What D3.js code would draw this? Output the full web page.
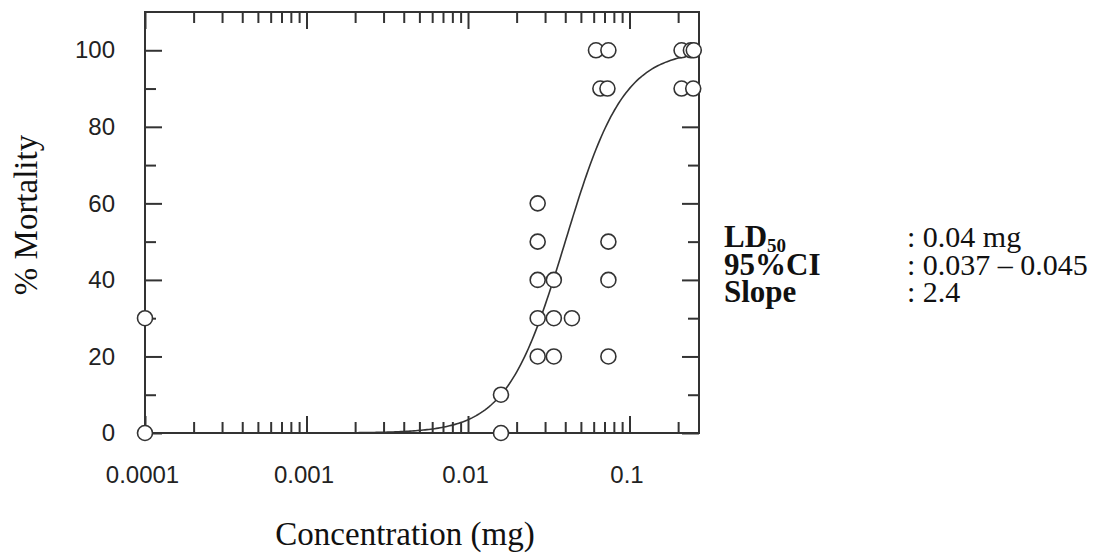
<!DOCTYPE html>
<html>
<head>
<meta charset="utf-8">
<script src="https://cdn.jsdelivr.net/npm/d3@7"></script>
<style>
  body { margin: 0; background: #fff; }
  svg { display: block; }
  .tick text { font-family: "Liberation Sans", Arial, sans-serif; font-size: 24px; fill: #222; }
  .serif { font-family: "Liberation Serif", "Times New Roman", serif; fill: #111; }
</style>
</head>
<body>
<svg class="figure" width="1095" height="555"></svg>
<script>
// observed mortality per test concentration (mg)
var doses = [0.0001, 0.0001, 0.016, 0.016,
  0.027, 0.027, 0.027, 0.027, 0.027,
  0.034, 0.034, 0.034, 0.044,
  0.074, 0.074, 0.074,
  0.062, 0.074, 0.066, 0.073,
  0.21, 0.24, 0.25, 0.21, 0.248];
var mortality = [0, 30, 0, 10,
  20, 30, 40, 50, 60,
  20, 30, 40, 30,
  20, 40, 50,
  100, 100, 90, 90,
  100, 100, 100, 90, 90];

// fitted dose-response
var ld50 = 0.04;
var slope = 2.4;
var fitRange = [0.00128, 0.2693];

var xMajor = [0.0001, 0.001, 0.01, 0.1];
var xTickLabels = ["0.0001", "0.001", "0.01", "0.1"];
var yMajor = [0, 20, 40, 60, 80, 100];
var yMinor = [10, 30, 50, 70, 90];

var statNames = ["LD", "95%CI", "Slope"];
var statValues = [": 0.04 mg", ": 0.037 \u2013 0.045", ": 2.4"];

var svg = d3.select("svg.figure");
var plotLeft = 145, plotRight = 699, plotTop = 12, plotBottom = 433;
var ink = "#333";

var x = d3.scaleLog().domain([0.0001, 0.2693]).range([plotLeft, plotRight]);
var y = d3.scaleLinear().domain([0, 110]).range([plotBottom, plotTop]);

var xMinor = x.ticks().filter(function(d) {
  return !xMajor.some(function(m) { return Math.abs(m - d) < m * 1e-6; });
});

function styleTicks(g) {
  g.select(".domain").remove();
  g.selectAll(".tick line").attr("stroke", ink).attr("stroke-width", 2);
}

// inward ticks on all four sides
function addTicks(axisFn, transform, values, size) {
  svg.append("g")
    .attr("transform", transform)
    .call(axisFn.tickValues(values).tickSize(-size).tickFormat(""))
    .call(styleTicks);
}
addTicks(d3.axisBottom(x), "translate(0," + plotBottom + ")", xMajor, 17);
addTicks(d3.axisBottom(x), "translate(0," + plotBottom + ")", xMinor, 11);
addTicks(d3.axisTop(x), "translate(0," + plotTop + ")", xMajor, 17);
addTicks(d3.axisTop(x), "translate(0," + plotTop + ")", xMinor, 11);
addTicks(d3.axisLeft(y), "translate(" + plotLeft + ",0)", yMajor, 17);
addTicks(d3.axisLeft(y), "translate(" + plotLeft + ",0)", yMinor, 11);
addTicks(d3.axisRight(y), "translate(" + plotRight + ",0)", yMajor, 17);
addTicks(d3.axisRight(y), "translate(" + plotRight + ",0)", yMinor, 11);

// tick labels
svg.append("g")
  .attr("transform", "translate(-3," + plotBottom + ")")
  .call(d3.axisBottom(x).tickValues(xMajor).tickSize(0).tickPadding(33)
    .tickFormat(function(d, i) { return xTickLabels[i]; }))
  .call(function(g) { g.select(".domain").remove(); });

svg.append("g")
  .attr("transform", "translate(" + plotLeft + ",0)")
  .call(d3.axisLeft(y).tickValues(yMajor).tickSize(0).tickPadding(30))
  .call(function(g) { g.select(".domain").remove(); });

// frame
svg.append("rect")
  .attr("x", plotLeft).attr("y", plotTop)
  .attr("width", plotRight - plotLeft).attr("height", plotBottom - plotTop)
  .attr("fill", "none").attr("stroke", ink).attr("stroke-width", 2);

// fitted curve
var curvePts = d3.range(0, 201).map(function(i) {
  var lo = Math.log10(fitRange[0]), hi = Math.log10(fitRange[1]);
  var c = Math.pow(10, lo + (hi - lo) * i / 200);
  return [c, 100 / (1 + Math.pow(ld50 / c, slope))];
});
svg.append("path")
  .datum(curvePts)
  .attr("fill", "none")
  .attr("stroke", ink)
  .attr("stroke-width", 1.6)
  .attr("d", d3.line()
    .x(function(d) { return x(d[0]); })
    .y(function(d) { return y(d[1]); }));

// observations
svg.selectAll("circle.obs")
  .data(doses)
  .enter()
  .append("circle")
  .attr("class", "obs")
  .attr("cx", function(d) { return x(d); })
  .attr("cy", function(d, i) { return y(mortality[i]); })
  .attr("r", 7.5)
  .attr("fill", "#fff")
  .attr("stroke", ink)
  .attr("stroke-width", 1.6);

// axis titles
svg.append("text")
  .attr("class", "serif")
  .attr("x", 405).attr("y", 545)
  .attr("text-anchor", "middle")
  .style("font-size", "33px")
  .text("Concentration (mg)");

svg.append("text")
  .attr("class", "serif")
  .attr("transform", "translate(37,215) rotate(-90)")
  .attr("text-anchor", "middle")
  .style("font-size", "33px")
  .text("% Mortality");

// fit summary
var statY = [247, 275, 302];
var names = svg.selectAll("text.stat-name")
  .data(statNames)
  .enter()
  .append("text")
  .attr("class", "serif stat-name")
  .attr("x", 724)
  .attr("y", function(d, i) { return statY[i]; })
  .style("font-size", "31px")
  .style("font-weight", "bold")
  .text(function(d) { return d; });

names.filter(function(d) { return d === "LD"; })
  .append("tspan")
  .attr("dy", 5)
  .style("font-size", "19px")
  .text("50");

svg.selectAll("text.stat-value")
  .data(statValues)
  .enter()
  .append("text")
  .attr("class", "serif stat-value")
  .attr("x", 907)
  .attr("y", function(d, i) { return statY[i]; })
  .style("font-size", "30px")
  .text(function(d) { return d; });
</script>
</body>
</html>
